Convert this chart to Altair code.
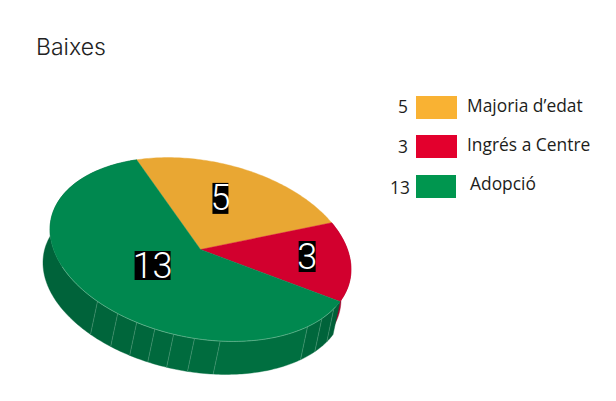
import math
import altair as alt
import pandas as pd

# ---- chart values
categories = ["Majoria d’edat", "Ingrés a Centre", "Adopció"]
values = [5, 3, 13]
top_colors = ["#e9a733", "#d2002e", "#00884f"]
wall_colors = ["#b8862a", "#a5002c", "#006b3e"]
legend_colors = ["#f9b233", "#e3002d", "#00964f"]
value_label_angle = [-84.2, -13.0, 135.3]
value_label_radius = [0.613, 0.713, 0.404]
value_box_sizes = [(16, 31), (17, 31), (36, 29)]
wall_seams = [21, 29.6, 38, 75.8, 85.6, 93.6, 101, 108.4, 116.7, 126.5]
wall_shades = ["#005f37", "#00633a", "#00673c", "#006f40", "#006c3e", "#006b3e",
               "#00693d", "#00673c", "#00663b", "#00653b", "#00633a"]

# ---- view of the tilted disc
CX, CY = 200.5, 249.5
A, B = 152.5, 88.6
PHI = math.radians(11.4)
DEPTH = (-7, 33)
RED_DEPTH = (-10, 30)
START = -121.8


def rim(t, r=1.0, shift=(0, 0)):
    t = math.radians(t)
    u, v = A * r * math.cos(t), B * r * math.sin(t)
    return (CX + u * math.cos(PHI) - v * math.sin(PHI) + shift[0],
            CY + u * math.sin(PHI) + v * math.cos(PHI) + shift[1])


def sweep(t0, t1, step=1.0):
    n = max(2, int(abs(t1 - t0) / step) + 1)
    return [t0 + (t1 - t0) * i / (n - 1) for i in range(n)]


SX = alt.Scale(domain=[8, 608], range=[0, 600])
SY = alt.Scale(domain=[8, 393], range=[0, 385])
X = alt.X("x:Q", axis=None, scale=SX)
Y = alt.Y("y:Q", axis=None, scale=SY)


def polygon(points, color, **kw):
    df = pd.DataFrame([{"x": p[0], "y": p[1], "i": i} for i, p in enumerate(points)])
    opts = dict(fill=color, stroke=color, strokeWidth=0.4, interpolate="linear-closed")
    opts.update(kw)
    return alt.Chart(df).mark_line(**opts).encode(x=X, y=Y, order="i:Q")


def stroke_line(points, color, width, opacity):
    df = pd.DataFrame([{"x": p[0], "y": p[1], "i": i} for i, p in enumerate(points)])
    return alt.Chart(df).mark_line(stroke=color, strokeWidth=width, opacity=opacity).encode(
        x=X, y=Y, order="i:Q")


def wall(t0, t1, color, depth=DEPTH):
    ts = sweep(t0, t1)
    return polygon([rim(t) for t in ts] + [rim(t, shift=depth) for t in reversed(ts)], color)


total = sum(values)
edges = [START]
for v in values:
    edges.append(edges[-1] + 360 * v / total)

layers = []
# side wall
layers.append(wall(edges[1], edges[2], wall_colors[1], RED_DEPTH))
bounds = [edges[2]] + wall_seams + [edges[3]]
for a, b, c in zip(bounds[:-1], bounds[1:], wall_shades):
    layers.append(wall(a, b, c))
for t in wall_seams:
    layers.append(stroke_line([rim(t), rim(t, shift=DEPTH)], "#8fc4a8", 0.7, 0.45))

# top of the disc
for i in range(3):
    pts = [(CX, CY)] + [rim(t) for t in sweep(edges[i], edges[i + 1])]
    layers.append(polygon(pts, top_colors[i]))
layers.append(stroke_line([rim(t) for t in sweep(edges[2] + 4, 150)], "#9fd0b6", 0.8, 0.6))

# value labels on the slices
for i, v in enumerate(values):
    px, py = rim(value_label_angle[i], value_label_radius[i])
    d = pd.DataFrame({"x": [px], "y": [py], "t": [str(v)]})
    w, h = value_box_sizes[i]
    layers.append(alt.Chart(d).mark_rect(width=w, height=h, color="#000000").encode(x=X, y=Y))
    layers.append(alt.Chart(d).mark_text(font="Roboto", fontSize=36, fontWeight=300,
                                         color="#ffffff", baseline="middle", align="center",
                                         dy=1).encode(x=X, y=Y, text="t:N"))

# legend
legend = pd.DataFrame({
    "cat": categories,
    "val": [str(v) for v in values],
    "color": legend_colors,
    "x": [416, 416, 416], "x2": [457, 457, 456],
    "y": [96, 135, 175], "y2": [119, 158, 198],
    "tx": [467, 467, 470], "ty": [107, 146, 185],
    "vx": [408, 408, 410], "vy": [108, 148, 189],
})
layers.append(alt.Chart(legend).mark_rect().encode(
    x=X, x2="x2:Q", y=Y, y2="y2:Q", color=alt.Color("color:N", scale=None)))
layers.append(alt.Chart(legend).mark_text(font="Open Sans", fontSize=17.4, align="left",
                                          baseline="middle", color="#1d1d1b").encode(
    x=alt.X("tx:Q", axis=None, scale=SX), y=alt.Y("ty:Q", axis=None, scale=SY), text="cat:N"))
layers.append(alt.Chart(legend).mark_text(font="Open Sans", fontSize=17.4, align="right",
                                          baseline="middle", color="#1d1d1b").encode(
    x=alt.X("vx:Q", axis=None, scale=SX), y=alt.Y("vy:Q", axis=None, scale=SY), text="val:N"))

# title
title = pd.DataFrame({"x": [36], "y": [55], "t": ["Baixes"]})
layers.append(alt.Chart(title).mark_text(font="Inter", fontSize=23, fontWeight=300, align="left",
                                         baseline="alphabetic", color="#222222").encode(
    x=X, y=Y, text="t:N"))

chart = alt.layer(*layers).properties(
    width=600, height=385, padding=0, background="#ffffff"
).configure_view(stroke=None)

chart.save("out.html", embed_options={"renderer": "svg", "actions": False})
